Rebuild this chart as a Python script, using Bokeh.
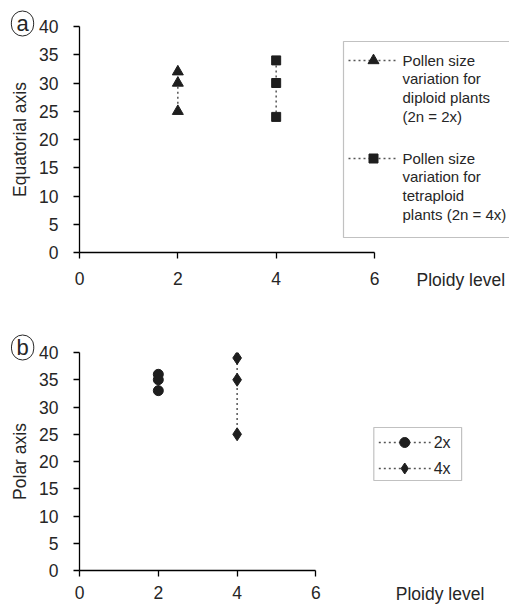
from bokeh.plotting import figure
from bokeh.layouts import column
from bokeh.models import Range1d, FixedTicker, Label, BoxAnnotation
from bokeh.embed import file_html
from bokeh.resources import INLINE

# ---------------- data ----------------
ploidy_ticks = [0, 2, 4, 6]
value_ticks = [0, 5, 10, 15, 20, 25, 30, 35, 40]

# (a) equatorial axis
eq_diploid_x = [2, 2, 2]
eq_diploid_y = [32, 30, 25]
eq_tetra_x = [4, 4, 4]
eq_tetra_y = [34, 30, 24]
legend_a = ["Pollen size\nvariation for\ndiploid plants\n(2n = 2x)",
            "Pollen size\nvariation for\ntetraploid\nplants (2n = 4x)"]

# (b) polar axis
po_2x_x = [2, 2, 2]
po_2x_y = [36, 35, 33]
po_4x_x = [4, 4, 4]
po_4x_y = [39, 35, 25]
legend_b = ["2x", "4x"]

FONT = "Liberation Sans"
INK = "#1e1e1e"
TXT = "#262626"
DOT = "#555555"
FS = "17.5px"


def base_fig(height, left, top, bottom, xmax, ylabel, xstand):
    p = figure(width=509, height=height, x_range=Range1d(0, xmax), y_range=Range1d(0, 40),
               output_backend="svg", toolbar_location=None,
               min_border_left=left, min_border_right=0, min_border_top=top,
               min_border_bottom=bottom)
    p.outline_line_color = None
    p.grid.visible = False
    for ax in (p.xaxis[0], p.yaxis[0]):
        ax.axis_line_color = "black"
        ax.axis_line_width = 1.3
        ax.major_tick_line_color = "black"
        ax.major_tick_line_width = 1.3
        ax.major_tick_out = 6
        ax.major_tick_in = 0
        ax.minor_tick_line_color = None
        ax.major_label_text_font = FONT
        ax.major_label_text_font_size = FS
        ax.major_label_text_color = TXT
    p.xaxis[0].major_label_standoff = xstand
    p.yaxis[0].major_label_standoff = 15
    p.xaxis[0].ticker = FixedTicker(ticks=ploidy_ticks)
    p.xaxis[0].bounds = (0, 6)
    p.yaxis[0].ticker = FixedTicker(ticks=value_ticks)
    p.yaxis[0].axis_label = ylabel
    p.yaxis[0].axis_label_text_font = FONT
    p.yaxis[0].axis_label_text_font_size = FS
    p.yaxis[0].axis_label_text_font_style = "normal"
    p.yaxis[0].axis_label_text_color = TXT
    p.yaxis[0].axis_label_standoff = 6
    return p


def circled(x, y, letter):
    return Label(x=x, y=y, text=letter, text_align="center", text_baseline="middle",
                 text_font=FONT, text_font_size="22px", text_color=TXT,
                 border_line_color=TXT, border_line_width=1, border_radius=12,
                 padding=dict(left=5, right=5, top=0, bottom=0))


# ================= panel a =================
A_LEFT, A_TOP, A_BOT = 79, 26, 100
A_H = 252 + A_BOT
ax_px = 295 / 6.0            # px per ploidy unit
ay_px = 226 / 40.0           # px per value unit
a_xmax = (509 - A_LEFT) / ax_px
pa = base_fig(A_H, A_LEFT, A_TOP, A_BOT, a_xmax, "Equatorial axis", 13)

def ax_(px):
    return (px - 79) / ax_px

def ay_(py):
    return (252 - py) / ay_px

pa.line(eq_diploid_x, eq_diploid_y, line_dash="2 3", line_color=DOT, line_width=1.5)
pa.scatter(eq_diploid_x, eq_diploid_y, marker="triangle", size=11, fill_color=INK, line_color=INK)
pa.line(eq_tetra_x, eq_tetra_y, line_dash="2 3", line_color=DOT, line_width=1.5)
pa.scatter(eq_tetra_x, eq_tetra_y, marker="square", size=9, fill_color=INK, line_color=INK)

# legend (a)
pa.add_layout(BoxAnnotation(left=ax_(343), right=ax_(540), top=ay_(41), bottom=ay_(237),
                            fill_alpha=0, line_color="#333333", line_width=1.2))
for i, (lab, mk, msz) in enumerate(zip(legend_a, ["triangle", "square"], [11, 9])):
    yy = [60, 158][i]
    pa.line([ax_(348), ax_(398)], [ay_(yy), ay_(yy)], line_dash="2 3", line_color=DOT, line_width=1.3)
    pa.scatter([ax_(373)], [ay_(yy)], marker=mk, size=msz, fill_color=INK, line_color=INK)
    pa.add_layout(Label(x=ax_(402), y=ay_(yy - 9), text=lab, text_baseline="top",
                        text_font=FONT, text_font_size="15px", text_color=TXT,
                        text_line_height=1.1))

# labels outside the frame go into a side panel so they are not clipped
pa.add_layout(Label(x=ax_(416), y=ay_(279), text="Ploidy level", text_baseline="middle",
                    text_font=FONT, text_font_size=FS, text_color=TXT), "below")
pa.add_layout(circled(ax_(22), ay_(23), "a"), "below")

# ================= panel b =================
B_LEFT, B_TOP, B_BOT = 78, 52, 35
B_H = B_TOP + 218 + B_BOT
bx_px = 237 / 6.0
by_px = 218 / 40.0
b_xmax = (509 - B_LEFT) / bx_px
pb = base_fig(B_H, B_LEFT, B_TOP, B_BOT, b_xmax, "Polar axis", 9)

def bx_(px):
    return (px - 78) / bx_px

def by_(py):
    return (570 - py) / by_px

pb.line(po_2x_x, po_2x_y, line_dash="2 3", line_color=DOT, line_width=1.5)
pb.scatter(po_2x_x, po_2x_y, marker="circle", size=10, fill_color=INK, line_color=INK)
pb.line(po_4x_x, po_4x_y, line_dash="2 3", line_color=DOT, line_width=1.5)
pb.scatter(po_4x_x, po_4x_y, marker="diamond", size=13, fill_color=INK, line_color=INK)

pb.add_layout(BoxAnnotation(left=bx_(373), right=bx_(461), top=by_(427), bottom=by_(480),
                            fill_alpha=0, line_color="#333333", line_width=1.2))
for i, (lab, mk, msz) in enumerate(zip(legend_b, ["circle", "diamond"], [10, 11])):
    yy = [442, 468][i]
    pb.line([bx_(378), bx_(430)], [by_(yy), by_(yy)], line_dash="2 3", line_color=DOT, line_width=1.3)
    pb.scatter([bx_(404)], [by_(yy)], marker=mk, size=msz, fill_color=INK, line_color=INK)
    pb.add_layout(Label(x=bx_(433), y=by_(yy), text=lab, text_baseline="middle",
                        text_font=FONT, text_font_size="16px", text_color=TXT))

pb.add_layout(Label(x=bx_(395), y=by_(593), text="Ploidy level", text_baseline="middle",
                    text_font=FONT, text_font_size=FS, text_color=TXT), "above")
pb.add_layout(circled(bx_(21), by_(347), "b"), "above")
pb.margin = (-(A_H - 300), 0, 0, 0)

layout = column(pa, pb, width=509, height=605, styles={"overflow": "hidden"})

with open("out.html", "w") as f:
    f.write(file_html(layout, INLINE))
